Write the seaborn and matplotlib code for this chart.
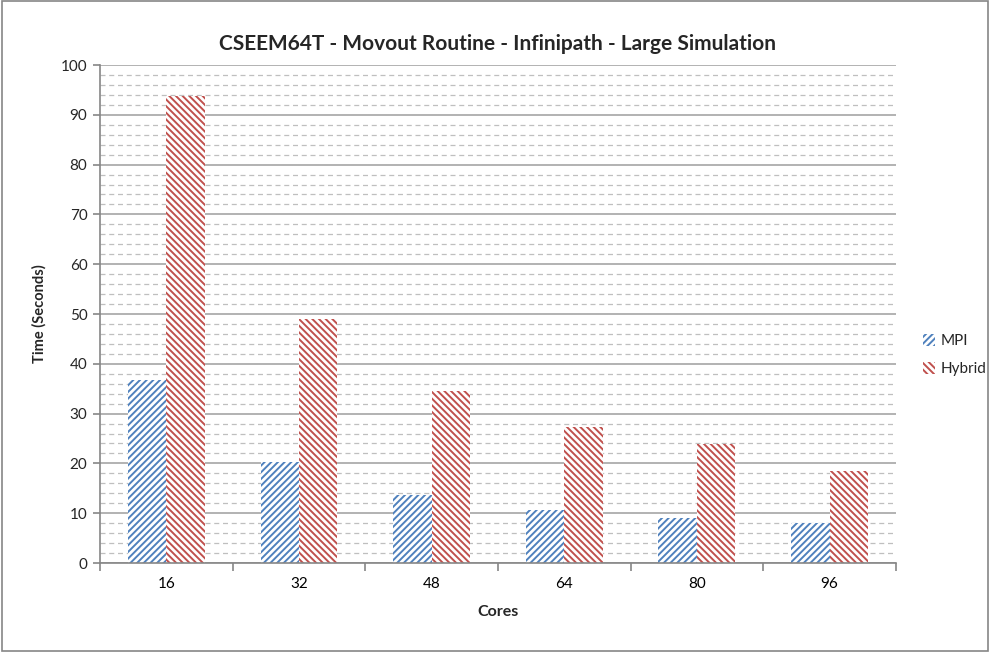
import matplotlib
matplotlib.use("Agg")
import matplotlib.pyplot as plt
import seaborn as sns
import pandas as pd
from matplotlib.patches import Rectangle
from matplotlib.ticker import MultipleLocator

cores = ["16", "32", "48", "64", "80", "96"]
mpi = [36.8, 20.3, 13.7, 10.6, 9.0, 8.0]
hybrid = [93.8, 48.9, 34.5, 27.4, 23.9, 18.5]
series = ["MPI", "Hybrid"]
colors = ["#4F81BD", "#C0504D"]
hatches = ["/////", "\\\\\\\\\\"]

df = pd.DataFrame({
    "Cores": cores * 2,
    "Time": mpi + hybrid,
    "Series": ["MPI"] * len(cores) + ["Hybrid"] * len(cores),
})

sns.set_theme(style="white")
plt.rcParams["font.family"] = ["Lato", "DejaVu Sans"]
plt.rcParams["hatch.linewidth"] = 1.4

fig = plt.figure(figsize=(9.9, 6.52), dpi=100)
ax = fig.add_axes([0.101, 0.1365, 0.804, 0.7638])

sns.barplot(data=df, x="Cores", y="Time", hue="Series", hue_order=series,
            palette=["white", "white"], width=0.58, ax=ax, legend=False,
            saturation=1)

for i, cont in enumerate(ax.containers):
    for bar in cont:
        bar.set_hatch(hatches[i])
        bar.set_edgecolor(colors[i])
        bar.set_linewidth(0)
        bar.set_facecolor("white")

ax.set_ylim(0, 100)
ax.set_xlim(-0.5, len(cores) - 0.5)
ax.yaxis.set_major_locator(MultipleLocator(10))
ax.yaxis.set_minor_locator(MultipleLocator(2))
ax.grid(which="major", axis="y", color="#A6A6A6", linewidth=1.2, linestyle="-")
ax.grid(which="minor", axis="y", color="#BFBFBF", linewidth=0.9, linestyle=(0, (4, 3)))
ax.set_axisbelow(True)

for s in ["top", "right"]:
    ax.spines[s].set_visible(False)
for s in ["left", "bottom"]:
    ax.spines[s].set_color("#868686")
    ax.spines[s].set_linewidth(1.2)

ax.set_xticks(range(len(cores)))
ax.set_xticklabels(cores)
ax.set_xticks([x - 0.5 for x in range(len(cores) + 1)], minor=True)
ax.tick_params(axis="x", which="major", length=0, pad=10, labelsize=11, colors="black")
ax.tick_params(axis="x", which="minor", length=6, width=1.2, color="#868686", direction="out", bottom=True)
ax.tick_params(axis="y", which="major", length=5, width=1.2, color="#868686", direction="out", left=True, labelsize=11, pad=4)
ax.tick_params(axis="y", which="minor", length=0)

ax.set_xlabel("Cores", fontsize=11.5, fontweight="bold", labelpad=10)
ax.set_ylabel("Time (Seconds)", fontsize=10.5, fontweight="bold", labelpad=10)
ax.set_title("CSEEM64T - Movout Routine - Infinipath - Large Simulation",
             fontsize=15, fontweight="bold", pad=11)

handles = [Rectangle((0, 0), 1, 1, facecolor="white", edgecolor=c, linewidth=0, hatch=h)
           for c, h in zip(colors, hatches)]
fig.legend(handles, series, loc="center left", bbox_to_anchor=(0.918, 0.455),
           frameon=False, fontsize=11, handlelength=0.8, handleheight=0.8,
           handletextpad=0.4, labelspacing=0.9)

fig.patches.append(Rectangle((0.002, 0.002), 0.996, 0.996, transform=fig.transFigure,
                             fill=False, edgecolor="#868686", linewidth=1.2))

fig.savefig("out.png", dpi=100)
